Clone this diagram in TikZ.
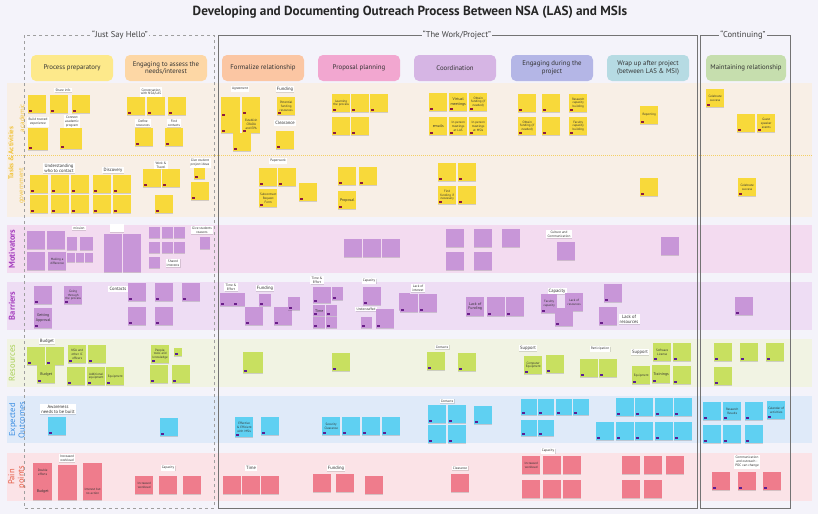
\documentclass[tikz,border=0pt]{standalone}
\usepackage{fontspec}
\setmainfont{PT Sans}
\usetikzlibrary{shadows}
\definecolor{bg}{HTML}{F4F3FA}
\definecolor{bTask}{HTML}{F8EFE6}
\definecolor{bMot}{HTML}{F3DBF0}
\definecolor{bBar}{HTML}{EEDDF4}
\definecolor{bRes}{HTML}{F1F3E3}
\definecolor{bExp}{HTML}{DFEAF9}
\definecolor{bPain}{HTML}{FBE3E7}
\definecolor{cY}{HTML}{F8D93A}
\definecolor{cYm}{HTML}{8E1B3F}
\definecolor{cP}{HTML}{C896D8}
\definecolor{cPm}{HTML}{6B1F8A}
\definecolor{cG}{HTML}{C8E060}
\definecolor{cB}{HTML}{5FD0F2}
\definecolor{cBm}{HTML}{5B1F93}
\definecolor{cR}{HTML}{EF7C8C}
\definecolor{tY}{HTML}{F1C43F}
\definecolor{tP}{HTML}{A43DBE}
\definecolor{tG}{HTML}{A6CF52}
\definecolor{tB}{HTML}{3B8EE3}
\definecolor{tR}{HTML}{E4573F}
\definecolor{hA}{HTML}{FDE98B}
\definecolor{hB}{HTML}{FDD7A5}
\definecolor{hC}{HTML}{FBC6A3}
\definecolor{hD}{HTML}{F2A7D0}
\definecolor{hE}{HTML}{D6B5E4}
\definecolor{hF}{HTML}{B4B6E6}
\definecolor{hG}{HTML}{B6DBE3}
\definecolor{hH}{HTML}{C6DEAE}
\newcounter{nc}
\newcounter{lc}
\newcommand\N[4][]{\stepcounter{nc}\node[#2,#1] (n\arabic{nc}) at (#3) {#4};}
\newcommand\Lb[3][]{\stepcounter{lc}\node[lbl,#1] (l\arabic{lc}) at (#2) {#3};}
\tikzset{
 note/.style={anchor=north west, minimum width=18pt, minimum height=18pt, inner sep=0.3pt,
   text width=17pt, align=center, font=\fontsize{3.2}{3.8}\selectfont, text=black!80,
   drop shadow={shadow xshift=0.2pt, shadow yshift=-0.8pt, opacity=0.15, fill=black}},
 tagged/.style={path picture={\fill[#1] ([xshift=1.2pt,yshift=1.2pt]path picture bounding box.south west) rectangle ++(3pt,2pt);}},
 sz/.code 2 args={\pgfmathsetmacro\tw{max(#1-1,1)}\tikzset{minimum width=#1pt, minimum height=#2pt, text width=\tw pt}},
 big/.style={font=\fontsize{3.9}{4.5}\selectfont},
 yel/.style={note, fill=cY, tagged=cYm},
 pur/.style={note, fill=cP},
 bar/.style={note, fill=cP, tagged=cPm},
 grn/.style={note, fill=cG, tagged=cBm},
 blu/.style={note, fill=cB, tagged=cBm},
 red/.style={note, fill=cR},
 redt/.style={note, fill=cR, tagged=cBm},
 lbl/.style={fill=white, inner sep=1.2pt, font=\fontsize{3.4}{3.9}\selectfont, align=center, text=black!80,
   drop shadow={shadow xshift=0.2pt, shadow yshift=-0.6pt, opacity=0.12, fill=black}},
 lbig/.style={font=\fontsize{4.6}{5.2}\selectfont},
 hdr/.style={rounded corners=5pt, minimum width=82pt, minimum height=26pt,
   align=center, font=\fontsize{6.8}{7.8}\selectfont, text=black!80},
 flb/.style={fill=bg, inner sep=1pt, font=\fontsize{8.5}{10}\selectfont, text=black!75},
 rowl/.style={rotate=90, font=\bfseries\fontsize{8.5}{10}\selectfont, align=center},
 rows/.style={rotate=90, font=\fontsize{7}{8}\selectfont},
}
\begin{document}
\begin{tikzpicture}[x=1pt,y=-1pt]
\fill[bg] (0,0) rectangle (818,514);
\useasboundingbox (0,0) rectangle (818,514);
\node[font=\bfseries\fontsize{13.2}{15}\selectfont, text=black!85] (title) at (410,12) {Developing and Documenting Outreach Process Between NSA (LAS) and MSIs};
% bands
\fill[bTask] (7,83) rectangle (812,217);
\fill[bMot] (7,225) rectangle (812,273);
\fill[bBar] (7,282) rectangle (812,330);
\fill[bRes] (7,339) rectangle (812,387);
\fill[bExp] (7,396) rectangle (812,443);
\fill[bPain] (7,453) rectangle (812,501);
\draw[tY!80, densely dotted, line width=1pt] (7,155) -- (812,155);
% frames
\draw[gray!75, dashed, line width=0.6pt] (24,35) rectangle (214,508);
\draw[gray!90!black, line width=0.7pt] (218,35) rectangle (697,508);
\draw[gray!90!black, line width=0.7pt] (700,35) rectangle (790,508);
\node[flb] (f1) at (120,35) {“Just Say Hello”};
\node[flb] (f2) at (457,35) {“The Work/Project”};
\node[flb] (f3) at (743,35) {“Continuing”};
% row labels
\node[rowl, text=tY, font=\bfseries\fontsize{7}{8}\selectfont] (r1) at (11,153) {Tasks \& Activities};
\node[rows, text=tY] (r1a) at (22,118) {academic};
\node[rows, text=tY] (r1b) at (22,186) {government};
\node[rowl, text=tP] (r2) at (12,249) {Motivators};
\node[rowl, text=tP] (r3) at (12,306) {Barriers};
\node[rowl, text=tG, font=\fontsize{8.5}{10}\selectfont] (r4) at (12,363) {Resources};
\node[rowl, text=tB, font=\fontsize{8.5}{9.5}\selectfont] (r5) at (17,420) {Expected\\Outcomes};
\node[rowl, text=tR, font=\fontsize{8.5}{9.5}\selectfont] (r6) at (17,477) {Pain\\points};
% headers
\node[hdr, fill=hA] (h1) at (72,68) {Process preparatory};
\node[hdr, fill=hB] (h2) at (166,68) {Engaging to assess the\\needs/interest};
\node[hdr, fill=hC] (h3) at (263,68) {Formalize relationship};
\node[hdr, fill=hD] (h4) at (359,68) {Proposal planning};
\node[hdr, fill=hE] (h5) at (455,68) {Coordination};
\node[hdr, fill=hF] (h6) at (552,68) {Engaging during the\\project};
\node[hdr, fill=hG] (h7) at (648,68) {Wrap up after project\\(between LAS \& MSI)};
\node[hdr, fill=hH, minimum width=80pt] (h8) at (746,68) {Maintaining relationship};
% ---------- Tasks academic ----------
\Lb{63,90}{Share info}
\N{yel}{28,95}{}\N{yel}{50,95}{}\N{yel}{72,95}{}
\Lb{38,122}{Build trusted\\experience}
\N[sz={20}{22}]{yel}{28,128}{}
\Lb{72,122}{Connect\\academic\\program}
\N[sz={22}{21}]{yel}{60,128}{}
\Lb{151,92}{Conversation\\with NSA/LAS}
\N{yel}{127,97}{}\N{yel}{147,97}{}\N{yel}{168,97}{}
\Lb{143,123}{Define\\resources}
\N{yel}{135,128}{}
\Lb{174,123}{Find\\contacts}
\N{yel}{165,128}{}
\Lb{240,89}{Agreement}
\N[sz={19}{20}]{yel}{221,97}{}\N[sz={19}{16}]{yel}{221,117}{}
\N{yel}{242,97}{}\N{yel}{242,115}{Establish CRADA and EPA}
\N{yel}{233,133}{}
\Lb[lbig]{285,89}{Funding}
\N{yel}{277,97}{Potential funding resources}
\Lb[lbig]{285,123}{Clearance}
\N{yel}{276,131}{}
\N{yel}{332,94}{Learning the process}\N{yel}{351,94}{}\N{yel}{370,94}{}
\N{yel}{332,117}{}\N{yel}{351,117}{}
\N{yel}{429,93}{}\N[big]{yel}{449,93}{Virtual meetings}\N{yel}{469,93}{Obtain funding (if needed)}
\N[big]{yel}{429,117}{emails}\N{yel}{449,117}{In-person meetings at LAS}\N{yel}{469,117}{In-person meetings at MSIs}
\N{yel}{518,94}{}\N{yel}{542,94}{}\N{yel}{569,94}{Research capacity building}
\N{yel}{518,117}{Obtain funding (if needed)}\N{yel}{542,117}{}\N{yel}{569,117}{Faculty capacity building}
\N{yel}{640,106}{Reporting}
\N{yel}{706,89}{Celebrate success}
\N{yel}{737,114}{}\N{yel}{757,114}{Guest speaker events}
% ---------- Tasks government ----------
\Lb[lbig]{59,168}{Understanding\\who to contact}
\N{yel}{30,175}{}\N{yel}{51,175}{}\N{yel}{71,175}{}
\N{yel}{30,195}{}\N{yel}{51,195}{}\N{yel}{71,195}{}
\Lb[lbig]{113,170}{Discovery}
\N{yel}{93,175}{}\N{yel}{113,175}{}\N{yel}{93,195}{}\N{yel}{113,195}{}
\Lb{161,165}{Work \&\\Travel}
\N{yel}{143,169}{}\N{yel}{162,169}{}\N{yel}{155,195}{}
\Lb{200,163}{Give student\\project ideas}
\N[sz={11}{11}]{yel}{194,168}{}\N{yel}{191,182}{}
\Lb{278,161}{Paperwork}
\N{yel}{259,168}{}\N{yel}{278,168}{}\N{yel}{259,189}{Subcontract Request Form}\N{yel}{299,183}{}
\N{yel}{338,167}{}\N{yel}{359,167}{}\N[big]{yel}{338,191}{Proposal}
\N{yel}{438,163}{}\N{yel}{458,163}{}\N{yel}{438,186}{Find funding if necessary}\N{yel}{458,186}{}
\N{yel}{640,178}{}
\N{yel}{738,178}{Celebrate success}
% ---------- Motivators ----------
\N{pur}{27,231}{}\N{pur}{47,231}{}
\Lb{79,228}{mission}
\N[sz={10}{13}]{pur}{67,237}{}\N[sz={13}{13}]{pur}{80,237}{}
\N{pur}{27,252}{}\N{pur}{48,252}{Making a difference}
\N[sz={8}{9}]{pur}{67,253}{}\N[sz={8}{9}]{pur}{76,253}{}\N[sz={8}{9}]{pur}{85,253}{}
\Lb[minimum width=14pt, minimum height=8pt]{117,228}{}
\N[sz={18}{19}]{pur}{104,234}{}\N[sz={18}{19}]{pur}{123,234}{}
\N[sz={18}{19}]{pur}{104,253}{}\N[sz={18}{19}]{pur}{123,253}{}
\N[sz={11}{11}]{pur}{149,227}{}\N[sz={11}{11}]{pur}{162,227}{}\N[sz={11}{11}]{pur}{174,227}{}
\N[sz={11}{11}]{pur}{149,242}{}\N[sz={11}{11}]{pur}{162,242}{}\N[sz={11}{11}]{pur}{174,242}{}
\N[sz={11}{11}]{pur}{149,257}{}
\Lb{173,263}{Shared\\interests}
\Lb{202,230}{Give students\\reasons}
\N[sz={10}{12}]{pur}{200,237}{}
\N{pur}{344,239}{}\N{pur}{363,239}{}\N{pur}{382,239}{}
\N{pur}{446,229}{}\N{pur}{474,229}{}\N{pur}{502,229}{}
\N{pur}{446,252}{}\N{pur}{474,252}{}
\Lb{559,234}{Culture and\\Communication}
\N{pur}{557,242}{}
\N{pur}{661,237}{}
% ---------- Barriers ----------
\N{bar}{34,286}{}\N{bar}{64,286}{Going through the process}
\N[sz={18}{20},big]{bar}{34,308}{Getting Approval}
\Lb[lbig]{118,289}{Contacts}
\N{bar}{128,283}{}\N{bar}{155,283}{}\N{bar}{182,283}{}
\N{bar}{128,307}{}\N{bar}{155,307}{}
\Lb{231,287}{Time \&\\Effort}
\N[sz={13}{13}]{bar}{220,293}{}\N[sz={12}{13}]{bar}{233,293}{}\N{bar}{245,307}{}
\Lb[lbig]{265,288}{Funding}
\N[sz={12}{12}]{bar}{259,294}{}\N{bar}{274,307}{}\N[sz={12}{13}]{bar}{288,297}{}
\Lb{317,280}{Time \&\\Effort}
\N[sz={18}{16}]{bar}{313,287}{}\N[sz={11}{13}]{bar}{332,287}{}
\N[sz={12}{11},big]{bar}{313,305}{Time}\N[sz={11}{11}]{bar}{326,305}{}
\N[sz={12}{11}]{bar}{313,317}{}\N[sz={11}{11}]{bar}{326,317}{}
\Lb{369,281}{Capacity}
\N{bar}{363,287}{}
\Lb{366,309}{Understaffed}
\N[sz={11}{11}]{bar}{361,317}{}\N[sz={18}{19}]{bar}{376,309}{}
\N[sz={11}{17}]{bar}{399,293}{}
\Lb{418,288}{Lack of\\interest}
\N{bar}{400,294}{}\N{bar}{419,294}{}
\N[sz={18}{19},big]{bar}{466,297}{Lack of Funding}\N[sz={18}{19}]{bar}{487,297}{}\N[sz={18}{19}]{bar}{506,297}{}
\Lb[lbig]{557,291}{Capacity}
\N[sz={16}{19}]{bar}{541,294}{Faculty capacity}\N{bar}{565,293}{Lack of resources}\N{bar}{555,308}{}
\N{bar}{604,284}{}\N{bar}{599,307}{}
\Lb[lbig]{629,319}{Lack of\\resources}
\N{bar}{735,297}{}
% ---------- Resources ----------
\Lb[lbig]{47,341}{Budget}
\N{grn}{27,347}{}\N{grn}{46,347}{}\N[big]{grn}{37,365}{Budget}
\N{grn}{68,345}{NSA and other IC officers}\N{grn}{88,345}{}
\N{grn}{67,367}{}\N{grn}{87,367}{Additional equipment}\N{grn}{106,367}{Equipment}
\N{grn}{151,345}{People, tools and knowledge}\N[sz={8}{8}]{grn}{174,348}{}
\N{grn}{150,365}{}\N{grn}{172,365}{}
\N[sz={20}{21}]{grn}{243,352}{}\N{grn}{332,353}{}
\Lb{442,347}{Contacts}
\N{grn}{427,352}{}\N{grn}{458,353}{}
\Lb[lbig]{528,348}{Support}
\N{grn}{524,356}{Computer Equipment}\N{grn}{546,355}{}
\Lb{600,349}{Participation}
\N{grn}{580,359}{}\N{grn}{599,359}{}
\Lb[lbig]{640,352}{Support}
\N{grn}{653,343}{Software License}\N{grn}{673,343}{}
\N{grn}{632,366}{Equipment}\N[big]{grn}{652,365}{Trainings}\N{grn}{673,366}{}
\N{grn}{714,343}{}\N{grn}{740,343}{}\N{grn}{766,343}{}\N{grn}{714,367}{}
% ---------- Expected outcomes ----------
\Lb[lbig, minimum width=30pt]{58,409}{Awareness\\needs to be built}
\N{blu}{48,417}{}\N{blu}{160,418}{}
\N[sz={18}{20}]{blu}{235,417}{Effective \& Efficient with MSIs}\N{blu}{261,417}{}
\N{blu}{322,417}{Security Clearance}\N{blu}{342,417}{}\N{blu}{362,417}{}\N{blu}{382,417}{}
\Lb{447,401}{Contacts}
\N{blu}{428,405}{}\N{blu}{448,405}{}\N{blu}{428,425}{}\N{blu}{448,425}{}
\N{blu}{474,406}{}
\N[sz={16}{16}]{blu}{521,399}{}\N[sz={16}{16}]{blu}{538,399}{}\N[sz={16}{16}]{blu}{556,399}{}\N[sz={16}{16}]{blu}{573,399}{}
\N[sz={16}{16}]{blu}{521,420}{}\N[sz={16}{16}]{blu}{538,420}{}
\N{blu}{616,398}{}\N{blu}{635,398}{}\N{blu}{655,398}{}\N{blu}{674,398}{}
\N{blu}{596,422}{}\N{blu}{616,422}{}\N{blu}{635,422}{}\N{blu}{655,422}{}\N{blu}{674,422}{}
\N{blu}{703,402}{}\N{blu}{723,402}{Research Results}\N{blu}{745,402}{}\N{blu}{767,401}{Calendar of activities}
\N{blu}{703,425}{}\N{blu}{723,425}{}\N{blu}{745,425}{}
% ---------- Pain points ----------
\N[sz={19}{19}]{red}{33,463}{Double efforts}\N[sz={19}{18},big]{red}{33,482}{Budget}
\Lb{67,458}{Increased\\workload}
\N[sz={19}{18}]{red}{58,465}{}\N[sz={19}{17}]{red}{58,483}{}
\N[sz={19}{19}]{red}{83,463}{}\N[sz={19}{18}]{red}{83,482}{Interest but no action}
\N{red}{135,476}{Increased workload}
\Lb{168,468}{Capacity}
\N{red}{159,476}{}\N{red}{183,476}{}
\Lb[lbig]{251,468}{Time}
\N{red}{223,476}{}\N{red}{242,476}{}\N{red}{261,476}{}
\Lb[lbig]{336,468}{Funding}
\N{red}{313,474}{}\N{red}{336,474}{}\N{red}{365,476}{}
\Lb{460,468}{Clearance}
\N{red}{451,474}{}
\Lb{548,451}{Capacity}
\N{red}{522,456}{Increased workload}\N{red}{543,456}{}\N{red}{563,456}{}
\N{red}{522,480}{}\N{red}{543,480}{}\N{red}{563,480}{}
\N{red}{622,456}{}\N{red}{644,456}{}\N{red}{666,456}{}
\N{red}{622,480}{}\N{red}{644,480}{}
\Lb{747,462}{Communication\\and outreach -\\POC can change}
\N{redt}{712,472}{}\N{redt}{738,472}{}\N{redt}{763,472}{}
\end{tikzpicture}
\end{document}
